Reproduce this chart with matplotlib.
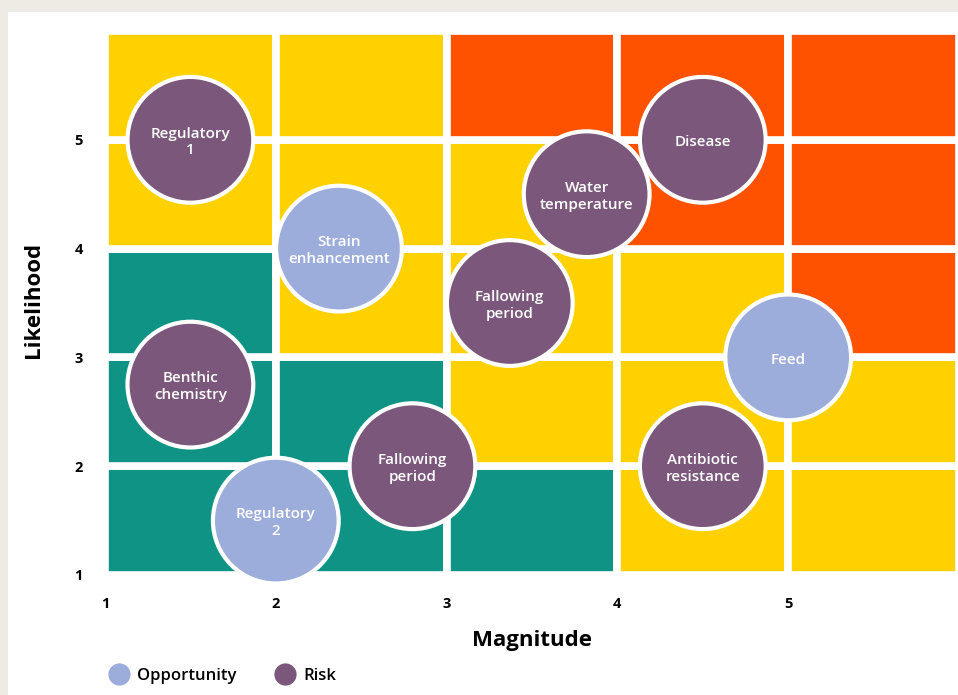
import matplotlib.pyplot as plt
from matplotlib.patches import Rectangle
from matplotlib.lines import Line2D

plt.rcParams['font.family'] = ['Open Sans', 'DejaVu Sans']

# zone grid: rows are likelihood 1..5 (bottom to top), columns magnitude 1..5
zones = [
    ["low", "low", "low", "mid", "mid"],
    ["low", "low", "mid", "mid", "mid"],
    ["low", "mid", "mid", "mid", "high"],
    ["mid", "mid", "mid", "high", "high"],
    ["mid", "mid", "high", "high", "high"],
]
zone_colors = {"low": "#0e9384", "mid": "#ffd100", "high": "#ff5200"}

# bubbles
labels = ["Regulatory\n1", "Strain\nenhancement", "Benthic\nchemistry", "Regulatory\n2",
          "Fallowing\nperiod", "Fallowing\nperiod", "Water\ntemperature", "Disease",
          "Feed", "Antibiotic\nresistance"]
magnitude = [1.5, 2.37, 1.5, 2.0, 2.8, 3.37, 3.82, 4.5, 5.0, 4.5]
likelihood = [5.0, 4.0, 2.75, 1.5, 2.0, 3.5, 4.5, 5.0, 3.0, 2.0]
kind = ["Risk", "Opportunity", "Risk", "Opportunity", "Risk", "Risk", "Risk", "Risk",
        "Opportunity", "Risk"]
kind_colors = {"Opportunity": "#9daddb", "Risk": "#7a577b"}

ticks = [1, 2, 3, 4, 5]

fig = plt.figure(figsize=(9.58, 6.95), dpi=100)
fig.patch.set_facecolor("#eeebe5")
fig.add_artist(Rectangle((8 / 958, 0), 1, 1 - 12 / 695, transform=fig.transFigure,
                         facecolor="white", edgecolor="none", zorder=0))

ax = fig.add_axes([105 / 958, 1 - 575 / 695, (959 - 105) / 958, (575 - 31) / 695])
ax.set_facecolor("none")

for r, row in enumerate(zones):
    for c, z in enumerate(row):
        ax.add_patch(Rectangle((1 + c, 1 + r), 1, 1, facecolor=zone_colors[z],
                               edgecolor="white", linewidth=5.5, zorder=1))

ax.scatter(magnitude, likelihood, s=8200, c=[kind_colors[k] for k in kind],
           edgecolors="white", linewidths=3, zorder=3, clip_on=False)
for x, y, t in zip(magnitude, likelihood, labels):
    ax.text(x, y - 0.02, t, ha="center", va="center", color="white", fontsize=11,
            fontweight="semibold", linespacing=1.25, zorder=4)

ax.set_xlim(1, 6)
ax.set_ylim(1, 6)
ax.set_xticks(ticks)
ax.set_yticks(ticks)
ax.tick_params(axis="x", length=0, labelsize=10.5, pad=16)
ax.tick_params(axis="y", length=0, labelsize=10.5, pad=16)
for lab in ax.get_xticklabels() + ax.get_yticklabels():
    lab.set_fontweight("bold")
for s in ax.spines.values():
    s.set_visible(False)

ax.set_xlabel("Magnitude", fontsize=16, fontweight="bold")
ax.set_ylabel("Likelihood", fontsize=16, fontweight="bold")
ax.xaxis.set_label_coords((532 - 105) / (959 - 105), -(630 - 575) / (575 - 31))
ax.yaxis.set_label_coords(-(105 - 44) / (959 - 105), (575 - 300) / (575 - 31))

handles = [Line2D([], [], marker="o", linestyle="none", markersize=16,
                  markerfacecolor=kind_colors[k], markeredgecolor="none")
           for k in ["Opportunity", "Risk"]]
fig.legend(handles, ["Opportunity", "Risk"], loc="center left",
           bbox_to_anchor=(102 / 958, 1 - 676 / 695), ncol=2, frameon=False,
           prop={"size": 12, "weight": "semibold"}, handletextpad=0.5,
           columnspacing=2.3, handlelength=1.2, borderaxespad=0)

fig.savefig("out.png", dpi=100, facecolor=fig.get_facecolor())
